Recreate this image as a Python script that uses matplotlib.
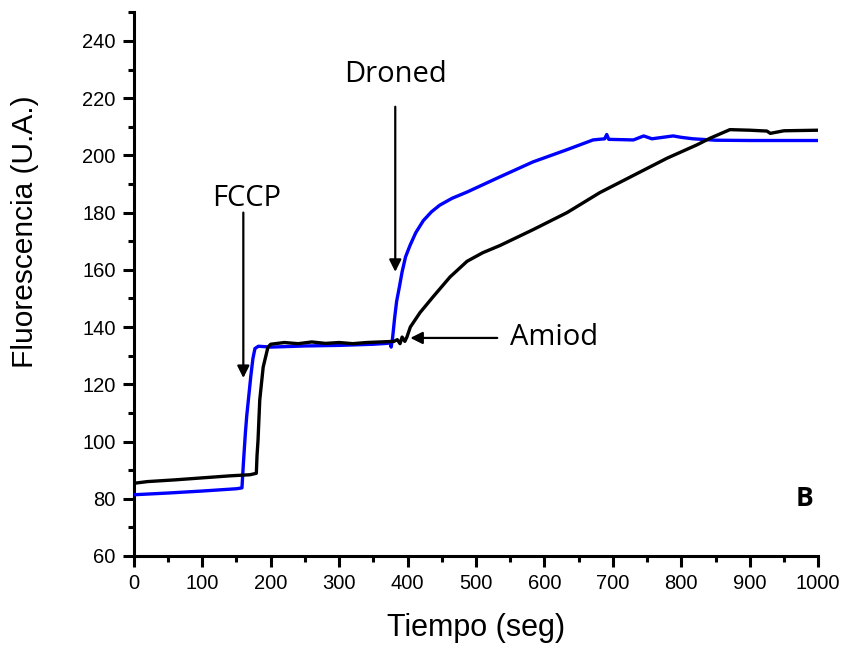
import numpy as np
import matplotlib

matplotlib.use("Agg")
import matplotlib.pyplot as plt
from matplotlib.ticker import MultipleLocator

# blue trace (Droned)
t_blue = [0, 50, 100, 150, 158, 160, 163, 165, 168, 171, 174, 177, 182,
          200, 250, 300, 350, 370, 375, 376, 378, 381, 384, 388, 392, 397,
          403.5, 412, 423, 435, 447, 465, 487, 535, 583, 633, 671, 688, 691,
          694, 730, 745, 757, 788, 800, 817, 850, 900, 1000]
f_blue = [81.4, 82.0, 82.7, 83.5, 83.8, 92, 103, 109, 116, 123, 129, 132.5,
          133.3, 133.0, 133.4, 133.6, 134.0, 134.3, 134.5, 133.0, 136, 143,
          149, 154, 159.3, 164.5, 168.5, 173, 177.2, 180.3, 182.6, 185.0,
          187.2, 192.5, 197.7, 202, 205.4, 205.8, 207.3, 205.6, 205.4, 206.8,
          205.8, 206.8, 206.3, 205.8, 205.3, 205.2, 205.2]

# black trace (Amiod)
t_black = [0, 20, 60, 100, 140, 170, 179, 180, 181.5, 184, 189, 196, 200,
           220, 240, 260, 280, 300, 320, 340, 360, 380, 385, 389, 392, 396,
           399, 404, 418, 437, 462, 487, 510, 535, 583, 633, 681, 730, 779,
           823, 842, 871, 900, 925, 930, 950, 1000]
f_black = [85.4, 86.0, 86.6, 87.3, 88.0, 88.4, 88.9, 95, 100.5, 114.5, 126,
           133, 134.0, 134.6, 134.2, 134.8, 134.3, 134.6, 134.2, 134.6, 134.8,
           135.0, 135.6, 134.2, 136.5, 135.0, 136.5, 140, 145, 150.5, 157.5,
           163.0, 166.0, 168.5, 174, 180, 187, 193, 199, 203.7, 206, 209,
           208.8, 208.5, 207.7, 208.6, 208.8]

plt.rcParams["font.family"] = ["Liberation Sans", "DejaVu Sans"]

fig = plt.figure(figsize=(8.47, 6.48), dpi=100)
ax = fig.add_axes([0.158, 0.142, 0.808, 0.839])

ax.plot(t_blue, f_blue, color="#0000ff", lw=2.4, zorder=3)
ax.plot(t_black, f_black, color="black", lw=2.4, zorder=4)

ax.set_xlim(0, 1000)
ax.set_ylim(60, 250)
ax.xaxis.set_major_locator(MultipleLocator(100))
ax.xaxis.set_minor_locator(MultipleLocator(50))
ax.yaxis.set_major_locator(MultipleLocator(20))
ax.yaxis.set_minor_locator(MultipleLocator(10))
ax.set_yticks(np.arange(60, 241, 20))

for side in ["top", "right"]:
    ax.spines[side].set_visible(False)
for side in ["left", "bottom"]:
    ax.spines[side].set_linewidth(2.2)

ax.tick_params(which="major", direction="out", length=8, width=2.2,
               labelsize=14.5, pad=5)
ax.tick_params(which="minor", direction="out", length=4.5, width=2.2)

ax.set_xlabel("Tiempo (seg)", fontsize=22, va="center")
ax.set_ylabel("Fluorescencia (U.A.)", fontsize=21.5, va="center")
ax.xaxis.set_label_coords(0.5, -0.132)
ax.yaxis.set_label_coords(-0.159, 0.596)

ann_font = dict(family=["Open Sans", "DejaVu Sans"], fontsize=21)
arrow = dict(arrowstyle="-|>", color="black", lw=1.6, mutation_scale=18,
             shrinkA=0, shrinkB=0)

ax.text(165, 185.1, "FCCP", ha="center", va="center", **ann_font)
ax.annotate("", xy=(160, 122.2), xytext=(160, 180), arrowprops=arrow)

ax.text(383, 228.1, "Droned", ha="center", va="center", **ann_font)
ax.annotate("", xy=(382, 159.3), xytext=(382, 217), arrowprops=arrow)

ax.text(550, 136.2, "Amiod", ha="left", va="center", **ann_font)
ax.annotate("", xy=(404, 136.2), xytext=(531, 136.2), arrowprops=arrow)

ax.text(993, 80, "B", ha="right", va="center", fontsize=19,
        fontweight="bold", family=["Open Sans", "DejaVu Sans"])

fig.savefig("out.png", dpi=100)
